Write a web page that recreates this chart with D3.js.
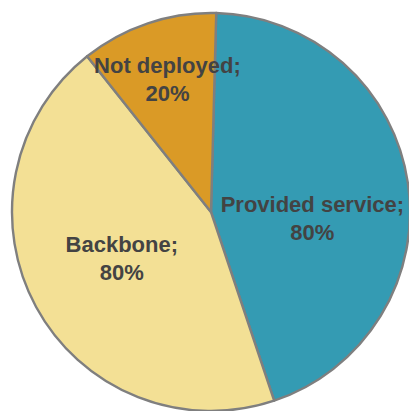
<!DOCTYPE html>
<html>
<head>
<meta charset="utf-8">
<script src="https://cdn.jsdelivr.net/npm/d3@7"></script>
<style>
  html, body { margin: 0; padding: 0; background: #ffffff; }
  svg { display: block; }
</style>
</head>
<body>
<svg id="chart" width="409" height="411"></svg>
<script>
// ---- data ----
const categories = ["Provided service", "Backbone", "Not deployed"];
const values = [80, 80, 20];
const labelValues = ["80%", "80%", "20%"];
const colors = ["#349bb3", "#f3e095", "#da9a26"];

// ---- layout ----
const W = 409, H = 411;
const cx = 211, cy = 212, R = 199;
const startAngle = 1.5 * Math.PI / 180;
// small nudges to mimic "best fit" label placement
const labelNudge = [[1, 23], [0, 0], [0, -1]];

const svg = d3.select("#chart");
const g = svg.append("g").attr("transform", `translate(${cx},${cy})`);

const pie = d3.pie().sort(null).value(d => d.value)
  .startAngle(startAngle).endAngle(startAngle + 2 * Math.PI);
const data = categories.map((c, i) => ({ name: c, value: values[i], label: labelValues[i], color: colors[i], i }));
const arcs = pie(data);

const arc = d3.arc().innerRadius(0).outerRadius(R);

g.selectAll("path.slice").data(arcs).join("path")
  .attr("class", "slice")
  .attr("d", arc)
  .attr("fill", d => d.data.color)
  .attr("stroke", "#7f7f7f")
  .attr("stroke-width", 2.4)
  .attr("stroke-linejoin", "round");

const labels = g.selectAll("text.lbl").data(arcs).join("text")
  .attr("class", "lbl")
  .attr("text-anchor", "middle")
  .attr("font-family", "'Liberation Sans', Arial, Helvetica, sans-serif")
  .attr("font-weight", "bold")
  .attr("font-size", 22)
  .attr("fill", "#434343")
  .attr("transform", d => {
    const span = d.endAngle - d.startAngle;
    const lr = span < Math.PI / 3 ? 0.69 * R : 0.51 * R;
    const c = d3.arc().innerRadius(lr).outerRadius(lr).centroid(d);
    const n = labelNudge[d.data.i];
    return `translate(${c[0] + n[0]},${c[1] + n[1]})`;
  });

labels.append("tspan").attr("x", 0).attr("y", -8).text(d => d.data.name + ";");
labels.append("tspan").attr("x", 0).attr("y", 20).text(d => d.data.label);
</script>
</body>
</html>
